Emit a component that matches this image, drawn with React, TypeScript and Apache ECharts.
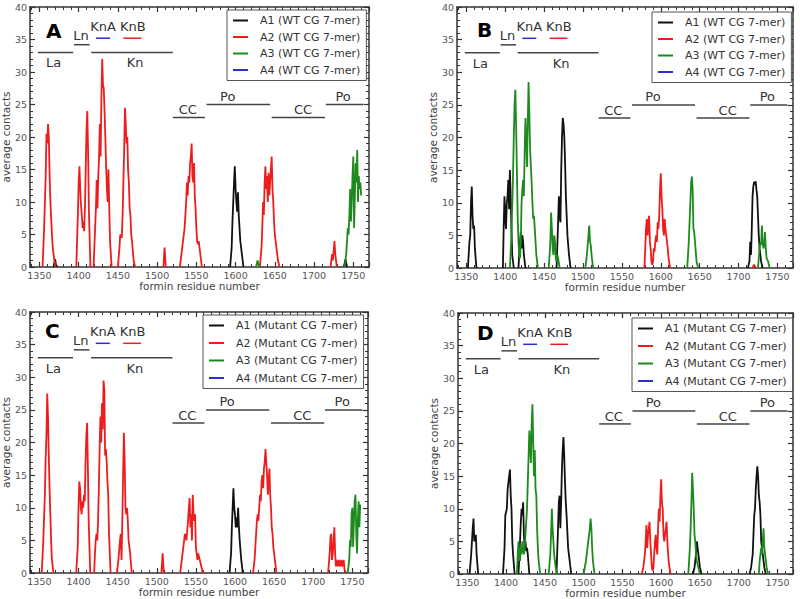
import React, { useEffect, useRef } from "react";
import * as echarts from "echarts";

type Pt = [number, number];

const X_MIN = 1338;
const X_MAX = 1770;
const Y_MIN = 0;
const Y_MAX = 40;

const PANEL_LETTERS = ["A", "B", "C", "D"];
const PANEL_KIND = ["WT CG 7-mer", "WT CG 7-mer", "Mutant CG 7-mer", "Mutant CG 7-mer"];
const SERIES_IDS = ["A1", "A2", "A3", "A4"];

// ---------- Panel A (WT) ----------
const A_A1: Pt[][] = [
  [[1368, 0], [1370, 1.2], [1371, 0.4], [1373, 0]],
  [[1593, 0], [1595, 3], [1596, 7], [1597, 10], [1598, 13], [1599, 15.5], [1600, 12], [1601, 10], [1602, 8.5], [1603, 11.5], [1604, 8], [1605, 6], [1606, 4], [1608, 2], [1610, 0]],
  [[1738, 0], [1740, 1.2], [1742, 0]],
];
const A_A2: Pt[][] = [
  [[1354, 0], [1356, 6], [1358, 14], [1359, 20.5], [1360, 19], [1361, 22], [1362, 20], [1363, 14], [1364, 10], [1366, 5], [1367, 3], [1369, 1], [1371, 0]],
  [[1397, 0], [1399, 8], [1400, 13], [1401, 15.5], [1402, 12], [1403, 9.5], [1404, 8], [1405, 6], [1406, 7], [1407, 5.5], [1408, 9], [1409, 15], [1410, 21], [1411, 24], [1412, 18], [1413, 9], [1415, 0]],
  [[1419, 0], [1421, 6], [1422, 9], [1423, 13.4], [1424, 9], [1425, 14], [1426, 17], [1427, 22], [1428, 17], [1429, 26], [1430, 32], [1431, 28], [1432, 27.5], [1433, 24], [1434, 20], [1435, 15.5], [1436, 12], [1437, 10], [1438, 15], [1439, 9], [1440, 4], [1442, 0]],
  [[1450, 0], [1452, 3], [1453, 5], [1455, 4.5], [1456, 8], [1457, 13], [1458, 18], [1459, 24.5], [1460, 22], [1461, 19], [1462, 20], [1463, 15], [1464, 13], [1465, 9], [1466, 8], [1467, 5], [1468, 4], [1470, 1], [1472, 0]],
  [[1508, 0], [1509.5, 3], [1511, 0]],
  [[1529, 0], [1531, 2], [1533, 4], [1535, 6], [1537, 10], [1538, 13], [1539, 11], [1540, 14], [1541, 13], [1542, 16], [1543, 17], [1544, 19], [1545, 14], [1546, 13], [1547, 16], [1548, 11], [1549, 9], [1550, 6], [1551, 4], [1552, 3.5], [1553, 4], [1555, 2], [1557, 0]],
  [[1631, 0], [1633, 3], [1634, 6], [1635, 10], [1636, 8], [1637, 13], [1638, 15.5], [1639, 12], [1640, 14], [1641, 10], [1642, 14.5], [1643, 11], [1644, 13], [1645, 15], [1646, 17], [1647, 12], [1648, 10], [1649, 7], [1650, 5], [1652, 3], [1654, 1], [1656, 0]],
  [[1721, 0], [1723, 2], [1724, 1], [1726, 4], [1727, 2], [1729, 0]],
];
const A_A3: Pt[][] = [
  [[1626, 0], [1628, 1], [1630, 0]],
  [[1739, 0], [1741, 2], [1742, 4], [1743, 6], [1744, 5], [1745, 8], [1746, 12], [1747, 7], [1748, 10], [1749, 14], [1750, 17], [1751, 6], [1752, 11], [1753, 16], [1754, 13], [1755, 18], [1756, 10], [1757, 14], [1758, 12], [1759, 13], [1760, 11]],
];
const A_A4: Pt[][] = [];

// ---------- Panel B (WT) ----------
const B_A1: Pt[][] = [
  [[1352, 0], [1354, 4], [1355, 5], [1356, 10], [1357, 12.5], [1358, 8], [1359, 6], [1360, 6.5], [1361, 3], [1363, 0]],
  [[1397, 0], [1398, 6], [1399, 11], [1400, 8], [1401, 6], [1402, 10], [1403, 11], [1404, 13.5], [1405, 9], [1406, 15], [1407, 11], [1408, 6], [1409, 2], [1411, 0]],
  [[1417, 0], [1419, 4], [1420, 5.5], [1421, 3], [1422, 5], [1423, 4], [1424, 2], [1426, 0]],
  [[1466, 0], [1468, 7], [1469, 11], [1470, 8], [1471, 7], [1472, 15], [1473, 20], [1474, 23], [1475, 22], [1476, 20], [1477, 16], [1478, 11], [1479, 8], [1480, 5], [1482, 2], [1484, 0]],
  [[1712, 0], [1714, 1], [1715, 4], [1716, 2], [1717, 6], [1718, 11], [1719, 12.5], [1720, 13.2], [1721, 12.8], [1722, 13.3], [1723, 12], [1724, 11], [1725, 8], [1726, 5], [1727, 3], [1729, 1], [1731, 0]],
];
const B_A2: Pt[][] = [
  [[1579, 0], [1580, 3], [1581, 6], [1582, 7.5], [1583, 5], [1584, 7], [1585, 8], [1586, 4], [1587, 3], [1588, 1], [1589, 0.5], [1590, 1], [1591, 3], [1592, 2.5], [1593, 4], [1594, 5], [1595, 4], [1596, 7], [1597, 6], [1598, 8], [1599, 12], [1600, 14.5], [1601, 11], [1602, 9], [1603, 6], [1604, 5], [1605, 7.5], [1606, 6], [1607, 5], [1608, 4], [1609, 3], [1610, 1.5], [1612, 0]],
  [[1718, 0], [1720, 0.5], [1722, 0]],
];
const B_A3: Pt[][] = [
  [[1406, 0], [1408, 5], [1410, 14], [1411, 20], [1412, 25], [1413, 27.3], [1414, 22], [1415, 15], [1416, 8], [1417, 4], [1418, 2], [1419, 1.5], [1420, 4], [1421, 10], [1422, 12], [1423, 13.5], [1424, 11], [1425, 18], [1426, 23], [1427, 20], [1428, 15.5], [1429, 22], [1430, 28.5], [1431, 24], [1432, 18], [1433, 15.5], [1434, 13], [1435, 10], [1436, 7.5], [1437, 8], [1438, 6], [1439, 4], [1440, 2], [1442, 0]],
  [[1456, 0], [1458, 4], [1459, 8.5], [1460, 6], [1461, 3], [1462, 2], [1463, 5], [1464, 4], [1465, 1.5], [1466, 1], [1467, 2], [1468, 1.5], [1470, 0]],
  [[1503, 0], [1505, 2], [1507, 5], [1508, 6.5], [1509, 4], [1510, 3.5], [1511, 2], [1513, 0]],
  [[1634, 0], [1636, 4], [1638, 10], [1639, 13], [1640, 14], [1641, 12], [1642, 6], [1643, 5.5], [1644, 4], [1646, 1], [1648, 0]],
  [[1725, 0], [1727, 3], [1728, 4], [1729, 3.5], [1730, 6.5], [1731, 4], [1732, 3], [1733, 3.5], [1734, 5.5], [1735, 3], [1736, 1.5], [1738, 1], [1740, 0]],
];
const B_A4: Pt[][] = [];

// ---------- Panel C (Mutant) ----------
const C_A1: Pt[][] = [
  [[1593, 0], [1595, 3], [1596, 7], [1597, 10], [1598, 13], [1599, 10], [1600, 9], [1601, 7], [1602, 8.5], [1603, 7], [1604, 10], [1605, 7], [1606, 5], [1608, 2], [1610, 0]],
];
const C_A2: Pt[][] = [
  [[1353, 0], [1355, 5], [1357, 12], [1358, 17.5], [1359, 21], [1360, 27.5], [1361, 24], [1362, 18], [1363, 13], [1364, 9], [1365, 5], [1366, 2], [1368, 0]],
  [[1397, 0], [1398, 2], [1399, 4], [1400, 10], [1401, 14], [1402, 13], [1403, 10], [1404, 9], [1405, 11], [1406, 10], [1407, 12], [1408, 11], [1409, 17], [1410, 21], [1411, 23], [1412, 16], [1413, 8], [1415, 0]],
  [[1420, 0], [1421, 3], [1422, 5], [1423, 6], [1424, 5], [1425, 8], [1426, 13], [1427, 19], [1428, 24], [1429, 20], [1430, 26], [1431, 22], [1432, 29.5], [1433, 28], [1434, 18], [1435, 19], [1436, 17], [1437, 14], [1438, 12], [1439, 6], [1441, 0]],
  [[1449, 0], [1451, 2], [1453, 5], [1454, 6], [1455, 2], [1456, 8], [1457, 15], [1458, 21.5], [1459, 17], [1460, 10], [1461, 9], [1462, 10], [1463, 8], [1464, 5], [1466, 3], [1468, 0]],
  [[1506, 0], [1507.5, 3], [1509, 0]],
  [[1530, 0], [1532, 2], [1534, 4], [1536, 6], [1538, 5], [1540, 8], [1541, 10], [1542, 11.5], [1543, 7], [1544, 9], [1545, 5], [1546, 12], [1547, 9], [1548, 8], [1549, 9], [1550, 4], [1551, 3], [1552, 2], [1553, 3], [1555, 2], [1557, 1], [1559, 0]],
  [[1623, 0], [1625, 2], [1626, 4], [1628, 8], [1629, 9], [1630, 8], [1631, 10], [1632, 12], [1633, 11], [1634, 14], [1635, 15], [1636, 13], [1637, 16], [1638, 17], [1639, 19], [1640, 17], [1641, 15], [1642, 12], [1643, 14], [1644, 16], [1645, 12], [1646, 10], [1647, 7], [1648, 6], [1649, 4], [1650, 3], [1652, 1], [1653, 0]],
  [[1719, 0], [1721, 3], [1722, 5.5], [1723, 6], [1724, 2], [1725, 3], [1726, 5], [1727, 7], [1728, 3], [1729, 1], [1730, 2], [1731, 1], [1733, 2], [1734, 1], [1736, 2], [1737, 1], [1739, 2], [1740, 0.5], [1742, 0]],
];
const C_A3: Pt[][] = [
  [[1744, 0], [1746, 2], [1747, 5], [1748, 4], [1749, 9], [1750, 10], [1751, 4], [1752, 8], [1753, 11], [1754, 12], [1755, 6], [1756, 3], [1757, 8], [1758, 11], [1759, 7], [1760, 10.5]],
];
const C_A4: Pt[][] = [];

// ---------- Panel D (Mutant) ----------
const D_A1: Pt[][] = [
  [[1353, 0], [1355, 3], [1356, 5], [1357, 7], [1358, 8.5], [1359, 5], [1360, 5.5], [1361, 6], [1362, 3], [1364, 0]],
  [[1396, 0], [1398, 4], [1399, 9], [1400, 9.5], [1401, 10], [1402, 13], [1403, 14], [1404, 15], [1405, 16], [1406, 12], [1407, 10], [1408, 5], [1409, 3], [1411, 0]],
  [[1416, 0], [1418, 5], [1419, 8], [1420, 10], [1421, 9], [1422, 11], [1423, 6], [1424, 4], [1425, 5], [1426, 3.5], [1427, 4], [1428, 3], [1430, 0]],
  [[1465, 0], [1467, 7], [1468, 11], [1469, 12], [1470, 7], [1471, 11], [1472, 16], [1473, 19], [1474, 21], [1475, 18], [1476, 14], [1477, 11], [1478, 9], [1480, 4], [1482, 2], [1484, 0]],
  [[1641, 0], [1643, 1], [1645, 3], [1646, 5], [1647, 4], [1648, 3], [1650, 1], [1652, 0]],
  [[1714, 0], [1716, 1], [1717, 2], [1718, 3], [1719, 6], [1720, 9], [1721, 10], [1722, 13], [1723, 15], [1724, 16.5], [1725, 15], [1726, 12], [1727, 11], [1728, 9], [1729, 5], [1731, 3], [1733, 1], [1735, 0]],
];
const D_A2: Pt[][] = [
  [[1575, 0], [1577, 1], [1579, 3], [1580, 5], [1581, 7.5], [1582, 4], [1583, 6], [1584, 7], [1585, 8], [1586, 5], [1587, 3], [1588, 1], [1589, 0.5], [1590, 1], [1591, 3], [1592, 5], [1593, 6], [1594, 4], [1595, 3], [1596, 7], [1597, 10], [1598, 8], [1599, 12], [1600, 14.5], [1601, 11], [1602, 10], [1603, 6], [1604, 5], [1605, 6], [1606, 7], [1607, 8], [1608, 5], [1609, 3], [1610, 1.5], [1612, 0]],
];
const D_A3: Pt[][] = [
  [[1414, 0], [1415, 3], [1416, 5], [1417, 3], [1418, 2], [1419, 4], [1420, 3], [1421, 5], [1422, 4], [1423, 3], [1424, 4], [1425, 6], [1426, 8], [1427, 10], [1428, 14], [1429, 18], [1430, 22], [1431, 20], [1432, 17], [1433, 23], [1434, 26], [1435, 20], [1436, 15], [1437, 19], [1438, 13], [1439, 12], [1440, 7], [1441, 4], [1442, 2], [1444, 0]],
  [[1455, 0], [1457, 3], [1458, 6], [1459, 10], [1460, 7], [1461, 5], [1462, 3], [1463, 2], [1464, 1], [1466, 0]],
  [[1500, 0], [1503, 2], [1505, 4], [1507, 6], [1508, 7], [1509, 8.5], [1510, 7], [1511, 4], [1512, 2], [1514, 0]],
  [[1635, 0], [1637, 4], [1638, 7], [1639, 11], [1640, 15.5], [1641, 13], [1642, 10], [1643, 6], [1644, 5], [1645, 3], [1646, 2], [1648, 1], [1650, 0]],
  [[1726, 0], [1727, 2], [1728, 3], [1729, 4], [1730, 3], [1731, 5], [1732, 7], [1733, 4], [1734, 3], [1735, 2], [1736, 1], [1738, 0]],
];
const D_A4: Pt[][] = [];

const PANEL_DATA: Pt[][][][] = [
  [A_A1, A_A2, A_A3, A_A4],
  [B_A1, B_A2, B_A3, B_A4],
  [C_A1, C_A2, C_A3, C_A4],
  [D_A1, D_A2, D_A3, D_A4],
];

// ---------- Domain annotations (residue ranges) ----------
const DOMAIN_NAMES = ["La", "Ln", "Kn", "KnA", "KnB", "CC", "Po", "CC", "Po"];
const DOMAIN_START = [1348, 1394, 1416, 1422, 1457, 1520, 1563, 1646, 1715];
const DOMAIN_END = [1393, 1414, 1520, 1440, 1480, 1561, 1644, 1714, 1763];
const DOMAIN_LEVEL = [33, 34.2, 33, 35.2, 35.2, 23, 25, 23, 25];
const DOMAIN_LABEL_X = [1368, 1403, 1431, 1431, 1469, 1539, 1590, 1686, 1737];
const DOMAIN_LABEL_Y = [31.4, 35.6, 31.4, 37.0, 37.0, 24.2, 26.3, 24.2, 26.3];
const DOMAIN_LABEL_X_FIX = [1368, 1403, 1472, 1431, 1469, 1539, 1590, 1686, 1737];

// ---------- styling ----------
const FONT = "DejaVu Sans";
const COLORS = ["#111111", "#ee1d1d", "#1d8a1d", "#2b2bd8"];
const AXIS_COLOR = "#333";
const GRIDS = [
  { left: 30, top: 7, width: 339, height: 260 },
  { left: 457, top: 7, width: 336, height: 261 },
  { left: 30, top: 312, width: 338, height: 261 },
  { left: 458, top: 313, width: 335, height: 261 },
];
const LEGEND_POS = [
  { left: 227, top: 10 },
  { left: 652, top: 12 },
  { left: 203, top: 315 },
  { left: 632, top: 318 },
];
const LETTER_POS = [
  { left: 46, top: 21 },
  { left: 477, top: 20 },
  { left: 45, top: 321 },
  { left: 477, top: 323 },
];

function toLineData(peaks: Pt[][]) {
  const out: any[] = [];
  peaks.forEach((pk, i) => {
    if (i > 0) out.push([pk[0][0] - 0.5, "-"]);
    pk.forEach((p) => out.push(p));
  });
  return out;
}

function xAxisFor(gi: number, position: "bottom" | "top", labels: boolean) {
  return {
    type: "value",
    gridIndex: gi,
    position,
    min: X_MIN,
    max: X_MAX,
    splitNumber: 8,
    minInterval: 50,
    maxInterval: 50,
    axisLine: { show: true, onZero: false, lineStyle: { color: AXIS_COLOR, width: 1.5 } },
    axisTick: { show: true, inside: true, length: 5, lineStyle: { color: AXIS_COLOR, width: 1.2 } },
    minorTick: { show: true, splitNumber: 5, length: 3, lineStyle: { color: AXIS_COLOR, width: 1 } },
    axisLabel: {
      show: labels,
      showMinLabel: false,
      showMaxLabel: false,
      color: "#555",
      fontSize: 9.5,
      fontFamily: FONT,
      margin: 3,
      formatter: (v: number) => String(v),
    },
    splitLine: { show: false },
    minorSplitLine: { show: false },
    name: labels ? "formin residue number" : "",
    nameLocation: "middle",
    nameGap: 13,
    nameTextStyle: { color: "#444", fontSize: 10.5, fontFamily: FONT },
  };
}

function yAxisFor(gi: number, position: "left" | "right", labels: boolean) {
  return {
    type: "value",
    gridIndex: gi,
    position,
    min: Y_MIN,
    max: Y_MAX,
    interval: 5,
    axisLine: { show: true, onZero: false, lineStyle: { color: AXIS_COLOR, width: 1.5 } },
    axisTick: { show: true, inside: true, length: 5, lineStyle: { color: AXIS_COLOR, width: 1.2 } },
    minorTick: { show: true, splitNumber: 5, length: 3, lineStyle: { color: AXIS_COLOR, width: 1 } },
    axisLabel: { show: labels, color: "#555", fontSize: 9.5, fontFamily: FONT, margin: 3 },
    splitLine: { show: false },
    minorSplitLine: { show: false },
    name: labels ? "average contacts" : "",
    nameLocation: "middle",
    nameGap: 17,
    nameTextStyle: { color: "#444", fontSize: 10.5, fontFamily: FONT },
  };
}

function domainColor(name: string) {
  if (name === "KnA") return COLORS[3];
  if (name === "KnB") return COLORS[1];
  return "#444";
}

function buildOption() {
  const grid: any[] = [];
  const xAxis: any[] = [];
  const yAxis: any[] = [];
  const series: any[] = [];
  const legend: any[] = [];
  const title: any[] = [];

  const domainData = DOMAIN_NAMES.map((_, i) => [
    DOMAIN_START[i],
    DOMAIN_END[i],
    DOMAIN_LEVEL[i],
    DOMAIN_LABEL_X_FIX[i],
    DOMAIN_LABEL_Y[i],
  ]);

  for (let p = 0; p < 4; p++) {
    grid.push({ ...GRIDS[p], containLabel: false, outerBoundsMode: "none" });
    xAxis.push(xAxisFor(p, "bottom", true));
    xAxis.push(xAxisFor(p, "top", false));
    yAxis.push(yAxisFor(p, "left", true));
    yAxis.push(yAxisFor(p, "right", false));

    const names = SERIES_IDS.map((id) => `${id} (${PANEL_KIND[p]})`);
    names.forEach((name, k) => {
      series.push({
        type: "line",
        name,
        xAxisIndex: p * 2,
        yAxisIndex: p * 2,
        data: toLineData(PANEL_DATA[p][k]),
        showSymbol: false,
        symbol: "none",
        connectNulls: false,
        color: COLORS[k],
        lineStyle: { color: COLORS[k], width: 1.8 },
        z: 3 + k,
        silent: true,
      });
    });

    series.push({
      type: "custom",
      name: "domains-" + p,
      xAxisIndex: p * 2,
      yAxisIndex: p * 2,
      data: domainData,
      encode: { x: [0, 1, 3], y: [2, 4] },
      clip: false,
      silent: true,
      z: 10,
      renderItem: (params: any, api: any) => {
        const idx = params.dataIndex;
        const nm = DOMAIN_NAMES[idx];
        const s = api.coord([api.value(0), api.value(2)]);
        const e = api.coord([api.value(1), api.value(2)]);
        const l = api.coord([api.value(3), api.value(4)]);
        return {
          type: "group",
          children: [
            {
              type: "line",
              shape: { x1: s[0], y1: s[1], x2: e[0], y2: e[1] },
              style: { stroke: domainColor(nm), lineWidth: 1.5 },
            },
            {
              type: "text",
              x: l[0],
              y: l[1],
              style: {
                text: nm,
                fill: "#333",
                font: `13px "${FONT}"`,
                align: "center",
                verticalAlign: "middle",
              },
            },
          ],
        };
      },
    });

    legend.push({
      data: names,
      left: LEGEND_POS[p].left,
      top: LEGEND_POS[p].top,
      orient: "vertical",
      icon: "rect",
      itemWidth: 15,
      itemHeight: 2,
      itemGap: p < 2 ? 3.5 : 4.5,
      padding: [4, 6, 4, 6],
      borderColor: "#555",
      borderWidth: 1,
      borderRadius: 0,
      backgroundColor: "#fff",
      selectedMode: false,
      textStyle: { color: "#333", fontSize: 11, fontFamily: FONT, padding: [0, 0, 0, 7], lineHeight: 13 },
    });

    title.push({
      text: PANEL_LETTERS[p],
      left: LETTER_POS[p].left,
      top: LETTER_POS[p].top,
      padding: 0,
      textStyle: { color: "#000", fontSize: 20, fontWeight: "bold", fontFamily: FONT },
    });
  }

  return {
    animation: false,
    backgroundColor: "#fff",
    textStyle: { fontFamily: FONT },
    grid,
    xAxis,
    yAxis,
    series,
    legend,
    title,
  };
}

export default function App() {
  const ref = useRef<HTMLDivElement>(null);
  useEffect(() => {
    if (!ref.current) return;
    const chart = echarts.init(ref.current, null, { renderer: "svg" });
    chart.setOption(buildOption() as any);
    return () => {
      chart.dispose();
    };
  }, []);
  return (
    <div
      ref={ref}
      style={{ position: "absolute", left: 0, top: 0, width: 800, height: 599, background: "#fff" }}
    />
  );
}
